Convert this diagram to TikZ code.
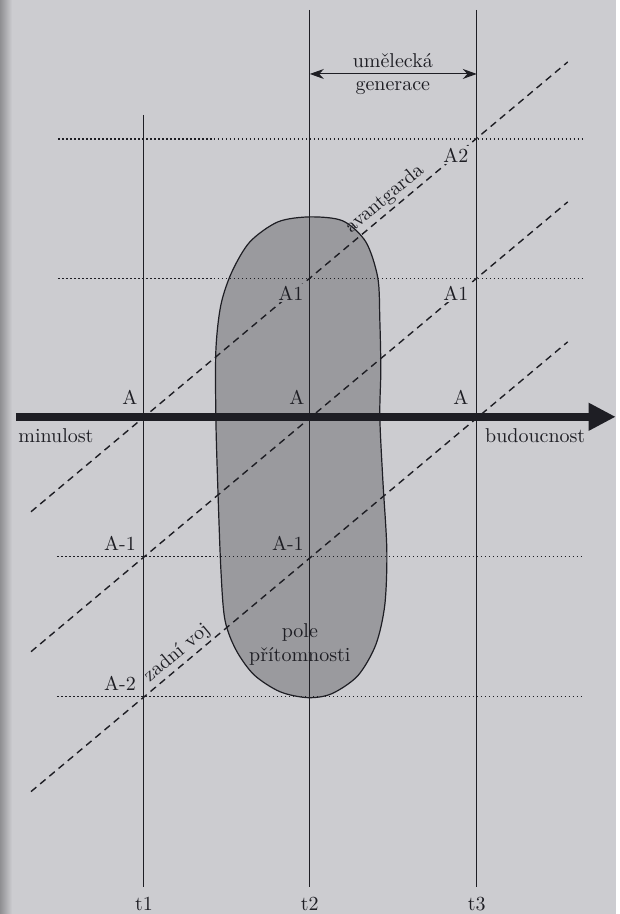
\documentclass[tikz,border=0pt]{standalone}
\usetikzlibrary{arrows.meta}
\definecolor{paper}{RGB}{204,204,208}
\definecolor{field}{RGB}{154,154,158}
\definecolor{ink}{RGB}{30,30,36}

\begin{document}
\begin{tikzpicture}[x=0.5pt,y=-0.5pt,font=\normalsize,
  tline/.style={draw=ink,line width=0.5pt},
  level/.style={draw=ink,line width=0.6pt,dash pattern=on 0.8pt off 1.2pt},
  wave/.style={draw=ink,line width=0.7pt,dash pattern=on 3.5pt off 2.5pt},
  lbl/.style={text=ink,inner sep=1.5pt},
  knock/.style={lbl,inner sep=1pt,fill=#1}]
% paper
\fill[paper](0,0) rectangle (616,914);
\shade[left color=paper!70!black,right color=paper](0,0) rectangle (12,914);
% field of the present
\draw[ink,line width=0.6pt,fill=field] plot[smooth cycle] coordinates {
  (310,217) (343,221) (366,242) (378,278) (380,320) (381,370) (380,417)
  (383,480) (387,550) (385,605) (376,645) (358,676) (332,694) (308,698)
  (280,692) (254,675) (236,650) (225,620) (221,570) (218,490) (216,420)
  (216,350) (221,305) (232,272) (250,242) (278,222)};
\node[lbl,align=center] (field) at (300,645) {pole\\přítomnosti};
% time lines
\foreach \n/\x/\ytop in {1/144/115,2/310/10,3/477/10}{
  \coordinate (t\n top) at (\x,\ytop); \coordinate (t\n bot) at (\x,887);
  \draw[tline] (t\n top) -- (t\n bot);
  \node[lbl,anchor=base] (t\n) at (\x,911) {t\n};
}
% levels
\foreach \n/\y/\xa/\xb in {2/139/58/585,1/279/58/585,m1/557/57/583,m2/697/57/583}{
  \coordinate (lv\n a) at (\xa,\y); \coordinate (lv\n b) at (\xb,\y);
  \draw[level] (lv\n a) -- (lv\n b);
}
% generations
\foreach \n/\ya/\yb in {1/512/62,2/652/202,3/792/342}{
  \coordinate (d\n a) at (31,\ya); \coordinate (d\n b) at (568,\yb);
  \draw[wave] (d\n a) -- (d\n b);
}
\path (d1a) -- (d1b) node[lbl,pos=0.674,sloped,above] (avant) {avantgarda};
\path (d3a) -- (d3b) node[lbl,pos=0.287,sloped,above] (rear) {zadní voj};
% time axis
\coordinate (past) at (16,417); \coordinate (future) at (616,417);
\draw[ink,line width=4pt,-{Triangle[length=13.5pt,width=13pt]}] (past) -- (future);
\node[lbl,anchor=base west] (minulost) at (15,443) {minulost};
\node[lbl,anchor=base west] (budoucnost) at (482,443) {budoucnost};
% artistic generation
\coordinate (gen l) at (310,74); \coordinate (gen r) at (477,74);
\draw[tline,{Stealth[length=7pt,width=5pt]}-{Stealth[length=7pt,width=5pt]}] (gen l) -- (gen r);
\node[lbl,anchor=base] (gen1) at (393,68) {umělecká};
\node[lbl,anchor=base] (gen2) at (393,91) {generace};
% positions
\node[lbl] (a t1) at (130,398) {A};
\node[lbl] (a t2) at (297,398) {A};
\node[lbl] (a t3) at (461,398) {A};
\node[knock=field] (a1 t2) at (291,293) {A1};
\node[knock=paper] (a1 t3) at (456,293) {A1};
\node[knock=paper] (a2 t3) at (456,155) {A2};
\node[lbl] (am1 t1) at (120,544) {A-1};
\node[lbl] (am1 t2) at (288,544) {A-1};
\node[lbl] (am2 t1) at (120,684) {A-2};
\end{tikzpicture}
\end{document}
